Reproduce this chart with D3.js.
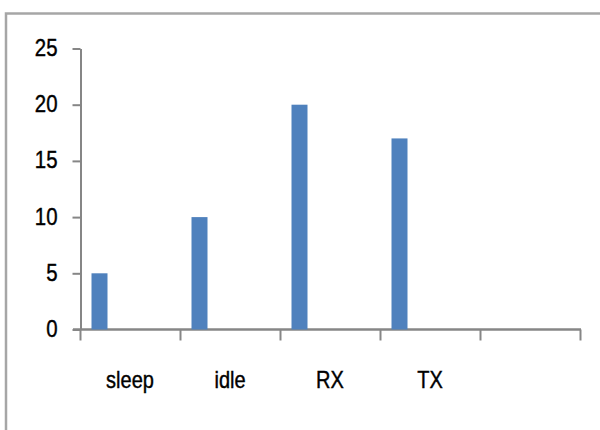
<!DOCTYPE html>
<html>
<head>
<meta charset="utf-8">
<script src="https://cdn.jsdelivr.net/npm/d3@7"></script>
<style>
  body { margin: 0; background: #fff; }
  svg { display: block; }
  .lbl { font-family: "Liberation Sans", Arial, sans-serif; font-size: 20px; fill: #000; stroke: #000; stroke-width: 0.35px; }
</style>
</head>
<body>
<svg id="chart" width="600" height="430"></svg>
<script>
// data
let categories = ['sleep', 'idle', 'RX', 'TX', ''];
let values = [5, 10, 20, 17];
let yTicks = [0, 5, 10, 15, 20, 25];

let svg = d3.select('#chart');

// outer frame (only top and left edge visible)
svg.append('path')
  .attr('d', 'M6,430V13.5H600')
  .style('fill', 'none')
  .style('stroke', '#a6a6a6')
  .style('stroke-width', 2.5);

let xScale = d3.scaleBand().domain(categories).range([80, 580]).paddingInner(0).paddingOuter(0);
let yScale = d3.scaleLinear().domain([0, 25]).range([329.5, 48.5]);

let axisColor = '#868686';

// y axis
let yAxis = d3.axisLeft(yScale).tickValues(yTicks).tickSize(8).tickSizeOuter(0).tickFormat('');
let gy = svg.append('g').attr('transform', 'translate(80.5,0)').call(yAxis);
gy.selectAll('path, line').style('stroke', axisColor).style('stroke-width', 2);

gy.selectAll('text.lbl')
  .data(yTicks)
  .enter()
  .append('text')
  .attr('class', 'lbl')
  .attr('text-anchor', 'end')
  .attr('transform', d => `translate(-23, ${yScale(d) + 7.5}) scale(1.02,1.2)`)
  .text(d => d);

// x axis: baseline plus ticks at band edges
let edges = categories.map(c => xScale(c)).concat([xScale.range()[1]]);
let gx = svg.append('g');
gx.append('line')
  .attr('x1', 73).attr('x2', xScale.range()[1] + 1)
  .attr('y1', yScale(0)).attr('y2', yScale(0))
  .style('stroke', axisColor).style('stroke-width', 2.5);
gx.selectAll('line.tick')
  .data(edges)
  .enter()
  .append('line')
  .attr('class', 'tick')
  .attr('x1', d => d + 0.5).attr('x2', d => d + 0.5)
  .attr('y1', yScale(0)).attr('y2', yScale(0) + 11)
  .style('stroke', axisColor).style('stroke-width', 2);

// bars
svg.selectAll('rect.bar')
  .data(values)
  .enter()
  .append('rect')
  .attr('class', 'bar')
  .attr('x', (d, i) => xScale(categories[i]) + xScale.bandwidth() * 0.115)
  .attr('width', xScale.bandwidth() * 0.16)
  .attr('y', d => yScale(d))
  .attr('height', d => yScale(0) - yScale(d))
  .style('fill', '#4f81bd');

// category labels
svg.selectAll('text.cat')
  .data(categories.filter(c => c))
  .enter()
  .append('text')
  .attr('class', 'lbl cat')
  .attr('text-anchor', 'middle')
  .attr('transform', d => `translate(${xScale(d) + xScale.bandwidth() / 2}, 388) scale(1,1.2)`)
  .text(d => d);
</script>
</body>
</html>
